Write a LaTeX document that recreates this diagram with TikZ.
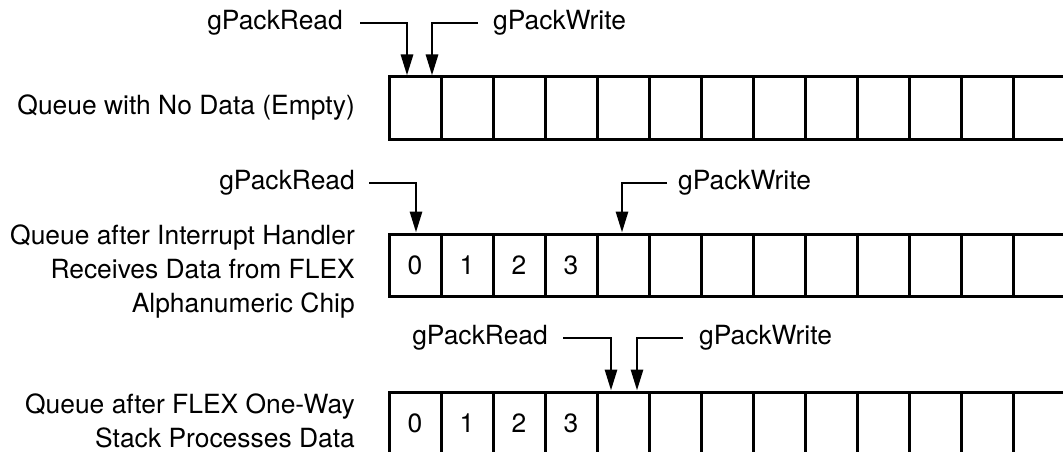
\documentclass[tikz,border=0pt]{standalone}
\usepackage{fontspec}
\setmainfont{TeX Gyre Heros}
\usetikzlibrary{arrows.meta}
\begin{document}
\begin{tikzpicture}[x=1pt,y=-1pt,
  cell/.style={draw, line width=3pt, rectangle, minimum width=52pt,
    minimum height=62pt, inner sep=0pt, font=\fontsize{26.4}{31}\selectfont},
  ptr/.style={line width=2.9pt, -{Triangle[length=21pt,width=12pt]}},
  tag/.style={inner sep=0pt, font=\fontsize{26.4}{31}\selectfont},
  rowlabel/.style={inner sep=0pt, anchor=east, align=right,
    font=\fontsize{26.4}{34}\selectfont}]
\useasboundingbox (0,0) rectangle (1063,452);
\clip (0,0) rectangle (1063,452);

% three queues of 13 slots, the last one running off the right edge
\foreach \r/\y in {1/108, 2/265, 3/423} {
  \foreach \k in {0,...,12} {
    \node[cell] (r\r c\k) at (415+52*\k, \y) {};
  }
}
% stored entries
\foreach \r in {2,3} {
  \foreach \k in {0,...,3} {
    \node[tag] (v\r\k) at (r\r c\k) {\k};
  }
}

% row captions
\node[rowlabel] (cap1) at (355,108) {Queue with No Data (Empty)};
\node[rowlabel] (cap2) at (355,272) {Queue after Interrupt Handler\\Receives Data from FLEX\\Alphanumeric Chip};
\node[rowlabel] (cap3) at (355,421) {Queue after FLEX One-Way\\Stack Processes Data};

% empty queue: read and write pointers side by side
\node[tag, anchor=east] (rd1) at (343,23) {gPackRead};
\node[tag, anchor=west] (wr1) at (493,23) {gPackWrite};
\coordinate (rd1s) at (360,23);
\coordinate (wr1s) at (478,23);
\draw[ptr] (rd1s) -| ([xshift=-8pt]r1c0.north);
\draw[ptr] (wr1s) -| ([xshift=17pt]r1c0.north);

% after the interrupt handler filled four slots
\node[tag, anchor=east] (rd2) at (355,183) {gPackRead};
\node[tag, anchor=west] (wr2) at (678,183) {gPackWrite};
\coordinate (rd2s) at (369,183);
\coordinate (wr2s) at (667,183);
\draw[ptr] (rd2s) -| ([xshift=1pt]r2c0.north);
\draw[ptr] (wr2s) -| ([xshift=-1pt]r2c4.north);

% after the stack consumed the data
\node[tag, anchor=east] (rd3) at (548,338) {gPackRead};
\node[tag, anchor=west] (wr3) at (699,338) {gPackWrite};
\coordinate (rd3s) at (563,338);
\coordinate (wr3s) at (683,338);
\draw[ptr] (rd3s) -| ([xshift=-12pt]r3c4.north);
\draw[ptr] (wr3s) -| ([xshift=14pt]r3c4.north);
\end{tikzpicture}
\end{document}
